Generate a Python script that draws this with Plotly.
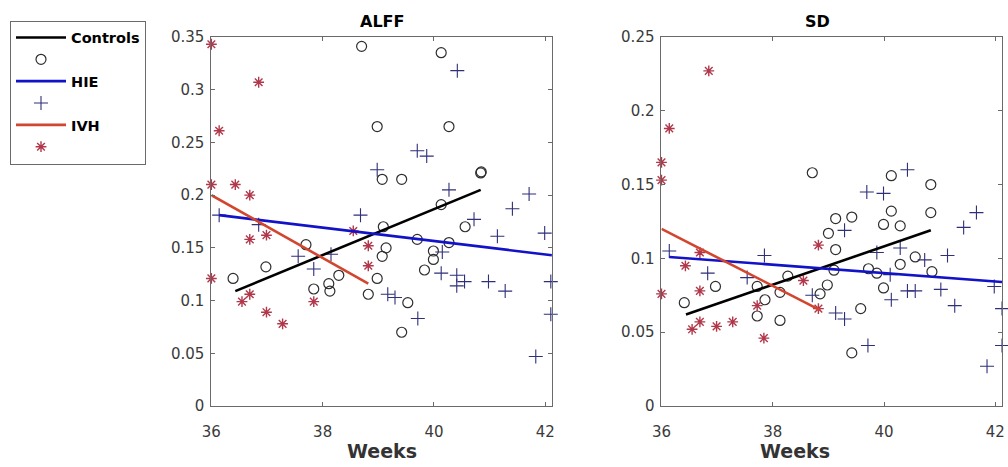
import plotly.graph_objects as go

# ---------------- data ----------------
X_TICKS = [36, 38, 40, 42]
X_TICK_TEXT = ["36", "38", "40", "42"]
ALFF_Y_TICKS = [0, 0.05, 0.1, 0.15, 0.2, 0.25, 0.3, 0.35]
ALFF_Y_TEXT = ["0", "0.05", "0.1", "0.15", "0.2", "0.25", "0.3", "0.35"]
SD_Y_TICKS = [0, 0.05, 0.1, 0.15, 0.2, 0.25]
SD_Y_TEXT = ["0", "0.05", "0.1", "0.15", "0.2", "0.25"]
PANEL_TITLES = ["ALFF", "SD"]
X_TITLE = "Weeks"
GROUPS = ["Controls", "HIE", "IVH"]

# ALFF panel
alff_ctrl_weeks = [36.39, 36.98, 37.70, 37.84, 38.11, 38.13, 38.29, 38.70, 38.82, 38.98,
                   38.98, 39.07, 39.09, 39.14, 39.07, 39.42, 39.42, 39.53, 39.70, 39.83,
                   39.99, 39.99, 40.13, 40.13, 40.27, 40.27, 40.56, 40.84, 40.85]
alff_ctrl = [0.121, 0.132, 0.153, 0.111, 0.116, 0.109, 0.124, 0.341, 0.106, 0.265,
             0.121, 0.142, 0.170, 0.150, 0.215, 0.215, 0.070, 0.098, 0.158, 0.129,
             0.147, 0.139, 0.191, 0.335, 0.265, 0.155, 0.170, 0.221, 0.222]
alff_hie_weeks = [36.14, 36.85, 37.56, 37.84, 38.15, 38.68, 38.98, 39.17, 39.30, 39.70,
                  39.87, 39.71, 40.13, 40.15, 40.27, 40.42, 40.41, 40.41, 40.55, 40.72,
                  40.98, 41.14, 41.28, 41.41, 41.71, 41.83, 41.99, 42.10, 42.10]
alff_hie = [0.181, 0.172, 0.142, 0.130, 0.144, 0.181, 0.224, 0.106, 0.103, 0.242,
            0.237, 0.083, 0.126, 0.146, 0.205, 0.318, 0.124, 0.114, 0.118, 0.177,
            0.118, 0.161, 0.109, 0.187, 0.201, 0.047, 0.164, 0.118, 0.087]
alff_ivh_weeks = [36.0, 36.0, 36.0, 36.14, 36.43, 36.55, 36.69, 36.69, 36.69, 36.85,
                  36.99, 36.99, 37.28, 37.84, 38.55, 38.82, 38.82]
alff_ivh = [0.343, 0.210, 0.121, 0.261, 0.210, 0.099, 0.200, 0.158, 0.106, 0.307,
            0.162, 0.089, 0.078, 0.099, 0.166, 0.152, 0.133]
alff_ctrl_fit_weeks = [36.43, 40.84]
alff_ctrl_fit = [0.109, 0.205]
alff_hie_fit_weeks = [36.14, 42.12]
alff_hie_fit = [0.181, 0.143]
alff_ivh_fit_weeks = [36.0, 38.82]
alff_ivh_fit = [0.200, 0.116]

# SD panel
sd_ctrl_weeks = [36.41, 36.97, 37.72, 37.72, 37.86, 38.13, 38.13, 38.27, 38.71, 38.85,
                 38.98, 39.00, 39.10, 39.13, 39.13, 39.42, 39.42, 39.58, 39.72, 39.87,
                 39.99, 39.99, 40.13, 40.13, 40.29, 40.29, 40.56, 40.84, 40.84, 40.86]
sd_ctrl = [0.070, 0.081, 0.081, 0.061, 0.072, 0.077, 0.058, 0.088, 0.158, 0.076,
           0.082, 0.117, 0.092, 0.106, 0.127, 0.128, 0.036, 0.066, 0.093, 0.090,
           0.080, 0.123, 0.132, 0.156, 0.122, 0.096, 0.101, 0.150, 0.131, 0.091]
sd_hie_weeks = [36.14, 36.83, 37.54, 37.85, 38.71, 39.13, 39.29, 39.29, 39.69, 39.71,
                39.87, 39.99, 40.11, 40.13, 40.29, 40.42, 40.42, 40.56, 40.73, 41.02,
                41.14, 41.27, 41.43, 41.66, 41.85, 41.98, 42.12, 42.12]
sd_hie = [0.105, 0.090, 0.087, 0.102, 0.075, 0.063, 0.119, 0.059, 0.145, 0.041,
          0.104, 0.144, 0.089, 0.072, 0.107, 0.160, 0.078, 0.078, 0.099, 0.079,
          0.102, 0.068, 0.121, 0.131, 0.027, 0.081, 0.066, 0.041]
sd_ivh_weeks = [36.0, 36.0, 36.0, 36.14, 36.43, 36.55, 36.69, 36.69, 36.69, 36.85,
                36.99, 37.28, 37.72, 37.84, 38.55, 38.82, 38.82]
sd_ivh = [0.165, 0.153, 0.076, 0.188, 0.095, 0.052, 0.104, 0.078, 0.057, 0.227,
          0.054, 0.057, 0.068, 0.046, 0.085, 0.109, 0.066]
sd_ctrl_fit_weeks = [36.44, 40.84]
sd_ctrl_fit = [0.062, 0.119]
sd_hie_fit_weeks = [36.14, 42.12]
sd_hie_fit = [0.101, 0.084]
sd_ivh_fit_weeks = [36.0, 38.85]
sd_ivh_fit = [0.120, 0.065]

# ---------------- styles ----------------
FONT = "DejaVu Sans"
LINE_COLORS = {"Controls": "#000000", "HIE": "#1212c8", "IVH": "#d2452e"}
MARKERS = {
    "Controls": dict(symbol="circle-open", size=10, color="#2e2e2e", line=dict(width=1.2, color="#2e2e2e")),
    "HIE": dict(symbol="cross-thin-open", size=10, color="#2f2f7a", line=dict(width=1.1, color="#2f2f7a")),
    "IVH": dict(symbol="asterisk-open", size=9, color="#b0384a", line=dict(width=1.4, color="#b0384a")),
}

panels = [
    dict(xa="x", ya="y",
         pts={"Controls": (alff_ctrl_weeks, alff_ctrl), "HIE": (alff_hie_weeks, alff_hie),
              "IVH": (alff_ivh_weeks, alff_ivh)},
         fits={"Controls": (alff_ctrl_fit_weeks, alff_ctrl_fit), "HIE": (alff_hie_fit_weeks, alff_hie_fit),
               "IVH": (alff_ivh_fit_weeks, alff_ivh_fit)}),
    dict(xa="x2", ya="y2",
         pts={"Controls": (sd_ctrl_weeks, sd_ctrl), "HIE": (sd_hie_weeks, sd_hie),
              "IVH": (sd_ivh_weeks, sd_ivh)},
         fits={"Controls": (sd_ctrl_fit_weeks, sd_ctrl_fit), "HIE": (sd_hie_fit_weeks, sd_hie_fit),
               "IVH": (sd_ivh_fit_weeks, sd_ivh_fit)}),
]

fig = go.Figure()
for pi, p in enumerate(panels):
    show = pi == 0
    for gi, g in enumerate(GROUPS):
        wx, vy = p["pts"][g]
        fig.add_trace(go.Scatter(x=wx, y=vy, mode="markers", marker=MARKERS[g],
                                 name=" ", showlegend=show, legendrank=2 * gi + 2,
                                 xaxis=p["xa"], yaxis=p["ya"], cliponaxis=False))
    for gi, g in enumerate(GROUPS):
        fx, fy = p["fits"][g]
        fig.add_trace(go.Scatter(x=fx, y=fy, mode="lines", line=dict(color=LINE_COLORS[g], width=2.6),
                                 name="<b>%s</b>" % g, showlegend=show, legendrank=2 * gi + 1,
                                 xaxis=p["xa"], yaxis=p["ya"], cliponaxis=False))

W, H = 1008, 467
y_dom = [1 - 413 / H, 1 - 29 / H]
x_doms = [[204 / W, 549 / W], [660 / W, 1005 / W]]

axis_common = dict(showline=True, mirror="allticks", linecolor="#6a6a6a", linewidth=1,
                   ticks="inside", ticklen=4, tickcolor="#6a6a6a", showgrid=False, zeroline=False,
                   tickfont=dict(family=FONT, size=15, color="#3a3a3a"))

fig.update_layout(
    width=W, height=H,
    margin=dict(l=0, r=0, t=0, b=0),
    paper_bgcolor="white", plot_bgcolor="white",
    font=dict(family=FONT),
    xaxis=dict(domain=x_doms[0], range=[36, 42.12], tickvals=X_TICKS, ticktext=X_TICK_TEXT,
               anchor="y", ticklabelstandoff=12, **axis_common),
    yaxis=dict(domain=y_dom, range=[0, 0.35], tickvals=ALFF_Y_TICKS, ticktext=ALFF_Y_TEXT,
               anchor="x", ticklabelstandoff=3, **axis_common),
    xaxis2=dict(domain=x_doms[1], range=[36, 42.12], tickvals=X_TICKS, ticktext=X_TICK_TEXT,
                anchor="y2", ticklabelstandoff=12, **axis_common),
    yaxis2=dict(domain=y_dom, range=[0, 0.25], tickvals=SD_Y_TICKS, ticktext=SD_Y_TEXT,
                anchor="x2", ticklabelstandoff=3, **axis_common),
    legend=dict(x=0.0, y=1 - 12 / H, xanchor="left", yanchor="top",
                bgcolor="white", bordercolor="#6a6a6a", borderwidth=1,
                font=dict(family=FONT, size=14.5, color="#000"), traceorder="normal",
                itemwidth=50, tracegroupgap=0),
    showlegend=True,
)

for i, t in enumerate(PANEL_TITLES):
    xm = (x_doms[i][0] + x_doms[i][1]) / 2
    fig.add_annotation(x=xm, y=1 - 13 / H, xref="paper", yref="paper", text="<b>%s</b>" % t,
                       showarrow=False, yanchor="middle", font=dict(family=FONT, size=16, color="#000"))
    fig.add_annotation(x=xm, y=1 - 460 / H, xref="paper", yref="paper", text="<b>%s</b>" % X_TITLE,
                       showarrow=False, yanchor="middle", font=dict(family=FONT, size=19, color="#333"))

fig.write_html("out.html")
